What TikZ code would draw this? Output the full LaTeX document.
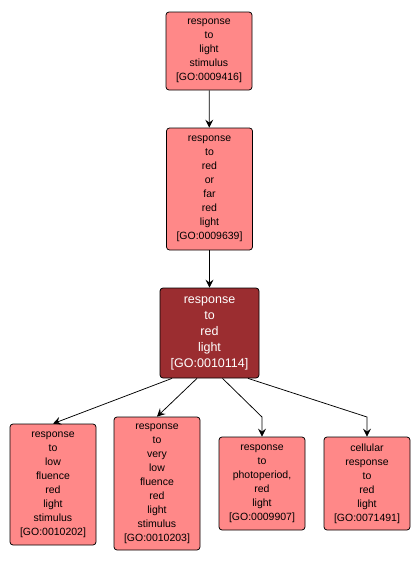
\documentclass[tikz,border=0pt]{standalone}
\usepackage{fontspec}
\setmainfont{Liberation Sans}
\usetikzlibrary{arrows.meta,positioning,calc}
\definecolor{golight}{RGB}{255,136,136}
\definecolor{godark}{RGB}{155,45,48}
\tikzset{every picture/.style={line width=0.75pt}}

\begin{document}
\begin{tikzpicture}[x=1pt, y=-1pt,
    term/.style={draw=black, fill=golight, rounded corners=3pt, align=center,
        minimum width=86pt, inner sep=0pt, font=\fontsize{10.5}{14}\selectfont},
    focus/.style={term, fill=godark, text=white, minimum width=99pt,
        font=\fontsize{12.5}{16}\selectfont},
    edge/.style={-{Stealth[length=8pt, width=8pt, inset=3pt]}}]
    \useasboundingbox (0,0) rectangle (420,566);
    % 上层
    \node[term, minimum height=78pt] (light) at (209,51)
        {response\\to\\light\\stimulus\\{[GO:0009416]}};
    \node[term, minimum height=122pt] (redfar) at (209.5,189)
        {response\\to\\red\\or\\far\\red\\light\\{[GO:0009639]}};
    \node[focus, minimum height=90pt] (red) at (209.5,333)
        {response\\to\\red\\light\\{[GO:0010114]}};
    % 下层
    \node[term, minimum height=121pt] (low) at (53,484.5)
        {response\\to\\low\\fluence\\red\\light\\stimulus\\{[GO:0010202]}};
    \node[term, minimum height=133pt] (verylow) at (157,483.5)
        {response\\to\\very\\low\\fluence\\red\\light\\stimulus\\{[GO:0010203]}};
    \node[term, minimum height=93pt] (photo) at (262,483.5)
        {response\\to\\photoperiod,\\red\\light\\{[GO:0009907]}};
    \node[term, minimum height=93pt] (cellular) at (367,483.5)
        {cellular\\response\\to\\red\\light\\{[GO:0071491]}};
    % 折点
    \coordinate (bphoto) at (262,417);
    \coordinate (bcell) at (367,417);
    % 连线
    \draw[edge] (light) -- (redfar);
    \draw[edge] (redfar) -- (red);
    \draw[edge] ([xshift=-37.5pt]red.south) -- (low.north);
    \draw[edge] ([xshift=-12.5pt]red.south) -- (verylow.north);
    \draw[edge] ([xshift=13pt]red.south) -- (bphoto) -- (photo.north);
    \draw[edge] ([xshift=38.5pt]red.south) -- (bcell) -- (cellular.north);
\end{tikzpicture}
\end{document}
